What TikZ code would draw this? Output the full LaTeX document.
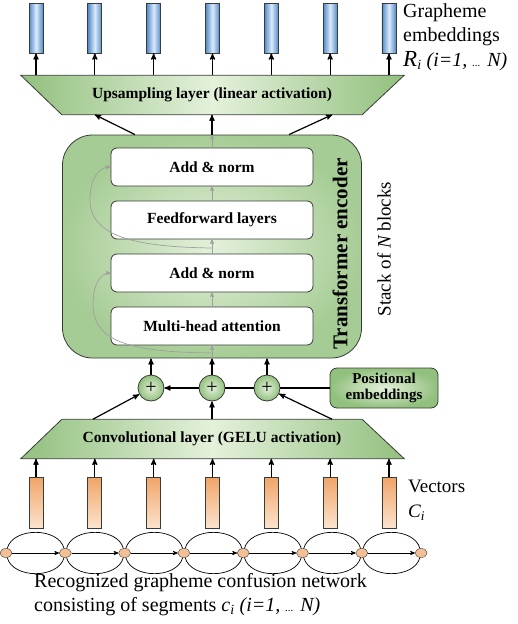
\documentclass[tikz,border=0pt]{standalone}
\usepackage{fontspec}
\setmainfont{Liberation Serif}
\usepackage{tikz}
\usetikzlibrary{calc}
\usetikzlibrary{backgrounds}
\usetikzlibrary{arrows}
\usetikzlibrary{shapes.geometric}
\usetikzlibrary{positioning}

\definecolor{grdark}{RGB}{146,192,126}
\definecolor{grlight}{RGB}{228,241,219}
\definecolor{bldark}{RGB}{82,138,205}
\definecolor{bllight}{RGB}{220,234,248}
\definecolor{ordark}{RGB}{240,164,104}
\definecolor{orlight}{RGB}{252,228,206}
\definecolor{edgecol}{RGB}{55,60,55}

\newcommand{\boldlab}{\fontsize{15.5}{17}\selectfont\bfseries}
\newcommand{\biglab}{\fontsize{20}{24.5}\selectfont}

\tikzset{encbox/.style={draw=edgecol, thick, rounded corners=30pt, minimum width=299pt, minimum height=223pt, inner color=grlight, outer color=grdark!75!grlight}}
\tikzset{block/.style={draw=edgecol, thick, fill=white, rounded corners=6pt, minimum width=202pt, minimum height=38pt, inner sep=0pt, font=\boldlab}}
\tikzset{plus/.style={circle, draw=edgecol, thick, minimum size=26pt, inner sep=0pt, inner color=grlight, outer color=grdark, font=\fontsize{20}{20}\selectfont}}
\tikzset{posbox/.style={draw=edgecol, thick, rounded corners=7pt, minimum width=108pt, minimum height=40pt, inner sep=0pt, align=center, font=\fontsize{15}{16}\selectfont\bfseries, inner color=grlight, outer color=grdark}}
\tikzset{trapbox/.style={minimum width=300pt, minimum height=39pt, inner sep=0pt, font=\boldlab}}
\tikzset{trapfill/.style={draw=edgecol, thick, left color=grdark, right color=grdark, middle color=grlight}}
\tikzset{blbar/.style={draw=edgecol, thick, minimum width=14pt, minimum height=50pt, inner sep=0pt, left color=bldark, right color=bldark, middle color=bllight}}
\tikzset{orbar/.style={draw=edgecol, thick, minimum width=14pt, minimum height=51pt, inner sep=0pt, top color=ordark, bottom color=orlight}}
\tikzset{cnode/.style={ellipse, draw=edgecol, fill=ordark!70!white, minimum width=12pt, minimum height=9pt, inner sep=0pt}}
\tikzset{arr/.style={->, line width=1.2pt}}
\tikzset{flow/.style={->, gray!75, line width=0.7pt}}
\tikzset{txt/.style={inner sep=0pt, font=\biglab}}

\begin{document}
\begin{tikzpicture}[x=1pt,y=-1pt,>=stealth']
\useasboundingbox (0,0) rectangle (518,624);

% transformer encoder
\node[encbox] (enc) at (212,246.5) {};
\node[block] (mha) at (212,326) {Multi-head attention};
\node[block] (an1) at (212,273) {Add \& norm};
\node[block] (ff) at (212,220) {Feedforward layers};
\node[block] (an2) at (212,167) {Add \& norm};
\node[rotate=90, inner sep=0pt, font=\fontsize{21}{21}\selectfont\bfseries] (enclab) at (340,254) {Transformer encoder};
\node[txt, rotate=90, font=\fontsize{19}{19}\selectfont] (stacklab) at (384,249) {Stack of {\itshape N} blocks};

\draw[flow] (enc.south) -- (mha.south);
\draw[flow] (mha.north) -- (an1.south);
\draw[flow] (an1.north) -- (ff.south);
\draw[flow] (ff.north) -- (an2.south);
\draw[flow] (an2.north) -- (enc.north);
\coordinate (res1) at (212,353);
\coordinate (res2) at (212,248);
\draw[flow] (res1) .. controls (140,352) and (93,345) .. (93,305) .. controls (93,285) and (100,273) .. (an1.west);
\draw[flow] (res2) .. controls (140,247) and (90,238) .. (90,200) .. controls (90,180) and (98,167) .. (an2.west);

% positional embeddings
\node[plus] (p1) at (151,388) {+};
\node[plus] (p2) at (212,388) {+};
\node[plus] (p3) at (267,388) {+};
\node[posbox] (pos) at (384,388) {Positional\\embeddings};

\draw[arr] (p1) -- (p1 |- enc.south);
\draw[arr] (p2) -- (enc.south);
\draw[arr] (p3) -- (p3 |- enc.south);
\draw[arr] (p2) -- (p1);
\draw[line width=1.2pt] (pos) -- (p3);
\draw[line width=1.2pt] (p3) -- (p2);

% layers
\node[trapbox] (conv) at (212,439) {Convolutional layer (GELU activation)};
\node[trapbox] (ups) at (212,95) {Upsampling layer (linear activation)};
\begin{scope}[on background layer]
\path[trapfill] ([xshift=-41pt]conv.south west) -- (conv.north west) -- (conv.north east) -- ([xshift=42pt]conv.south east) -- cycle;
\path[trapfill] ([xshift=-41pt]ups.north west) -- (ups.south west) -- (ups.south east) -- ([xshift=42pt]ups.north east) -- cycle;
\end{scope}

\draw[arr] (conv.north) -- (p2);
\draw[arr] ([xshift=31pt]conv.north west) -- (p1);
\draw[arr] ([xshift=-30pt]conv.north east) -- (p3);
\draw[arr] (enc.north) -- (ups.south);
\draw[arr] ([xshift=-77pt]enc.north) -- ([xshift=33pt]ups.south west);
\draw[arr] ([xshift=77pt]enc.north) -- ([xshift=-30pt]ups.south east);

% vectors
\foreach \i in {1,...,7}{
  \node[blbar] (b\i) at ({36+58.83*(\i-1)},28) {};
  \node[orbar] (o\i) at ({36+58.83*(\i-1)},502.5) {};
  \draw[arr] (b\i.south |- ups.north) -- (b\i.south);
  \draw[arr] (o\i.north) -- (o\i.north |- conv.south);
}

% confusion network
\foreach \i in {0,...,7}
  \node[cnode] (n\i) at ({6+59.3*\i},553) {};
\foreach \i [count=\j] in {0,...,6}{
  \draw[->, line width=0.7pt] (n\i) -- (n\j);
  \draw[line width=0.7pt] (n\i) to[bend left=75] (n\j);
  \draw[line width=0.7pt] (n\i) to[bend right=75] (n\j);
}

% texts
\node[txt, anchor=north west, align=left] (grlab) at (403,3) {Grapheme\\embeddings\\{\itshape {\fontsize{23}{23}\selectfont R}\textsubscript{i} (i=1, {\fontsize{11}{11}\selectfont...} N)}};
\node[txt, anchor=west, align=left, font=\fontsize{19}{25}\selectfont] (veclab) at (408,500) {Vectors\\{\itshape C\textsubscript{i}}};
\node[txt, anchor=north west, align=left, font=\fontsize{20}{24}\selectfont] (cnlab) at (34,573) {Recognized grapheme confusion network\\consisting of segments {\itshape c\textsubscript{i} (i=1, {\fontsize{11}{11}\selectfont...} N)}};

\end{tikzpicture}
\end{document}
